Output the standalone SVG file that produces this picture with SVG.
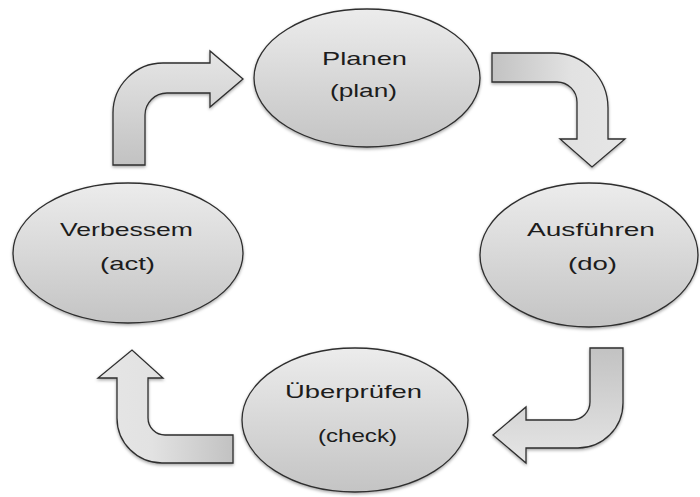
<svg xmlns="http://www.w3.org/2000/svg" width="700" height="497" viewBox="0 0 700 497">
<defs>
<linearGradient id="gEll" x1="0" y1="0" x2="0" y2="1">
<stop offset="0" stop-color="#ececec"/>
<stop offset="1" stop-color="#c4c4c4"/>
</linearGradient>
<linearGradient id="gA1" x1="0" y1="1" x2="0" y2="0">
<stop offset="0" stop-color="#c2c2c2"/>
<stop offset="1" stop-color="#e6e6e6"/>
</linearGradient>
<linearGradient id="gA2" x1="0" y1="0" x2="1" y2="0">
<stop offset="0" stop-color="#c2c2c2"/>
<stop offset="0.6" stop-color="#e2e2e2"/>
<stop offset="1" stop-color="#e6e6e6"/>
</linearGradient>
<linearGradient id="gA3" x1="0" y1="0" x2="0" y2="1">
<stop offset="0" stop-color="#c2c2c2"/>
<stop offset="1" stop-color="#e6e6e6"/>
</linearGradient>
<linearGradient id="gA4" x1="1" y1="0" x2="0" y2="0">
<stop offset="0" stop-color="#c2c2c2"/>
<stop offset="0.6" stop-color="#e2e2e2"/>
<stop offset="1" stop-color="#e6e6e6"/>
</linearGradient>
<filter id="sh" x="-10%" y="-10%" width="120%" height="125%">
<feDropShadow dx="0" dy="1.5" stdDeviation="1.5" flood-color="#000" flood-opacity="0.35"/>
</filter>
</defs>
<style>
.ell{fill:url(#gEll);stroke:#2e2e2e;stroke-width:1.3;filter:url(#sh)}
.arr{stroke:#2e2e2e;stroke-width:1.3;stroke-linejoin:miter;filter:url(#sh)}
.t{font-family:"Liberation Sans",Arial,sans-serif;font-size:19px;fill:#1c1c1c}
</style>
<rect width="700" height="497" fill="#ffffff"/>
<g id="connectors">
<path class="arr" fill="url(#gA1)" d="M113,165 L113,113 A50,50 0 0 1 163,63 L210,63 L210,51 L243,79 L210,107 L210,93 L167,93 A22,22 0 0 0 145,115 L145,165 Z"/>
<path class="arr" fill="url(#gA2)" d="M492,53 L553,53 A55,55 0 0 1 608,108 L608,139 L625,139 L592,167 L560,139 L577,139 L577,102 A20,20 0 0 0 557,82 L492,82 Z"/>
<path class="arr" fill="url(#gA3)" d="M590,348 L623,348 L623,403 A45,45 0 0 1 578,448 L526,448 L526,463 L493,435 L526,407 L526,420 L572,420 A18,18 0 0 0 590,402 Z"/>
<path class="arr" fill="url(#gA4)" d="M233,435 L233,463 L162,463 A45,45 0 0 1 117,418 L117,378 L98,378 L132,350 L163,378 L148,378 L148,418 A17,17 0 0 0 165,435 Z"/>
</g>
<g id="plan">
<ellipse class="ell" cx="367" cy="78" rx="113" ry="69"/>
<text class="t" x="322" y="65" textLength="85" lengthAdjust="spacingAndGlyphs">Planen</text>
<text class="t" x="330" y="97" textLength="67" lengthAdjust="spacingAndGlyphs">(plan)</text>
</g>
<g id="do">
<ellipse class="ell" cx="589" cy="255" rx="109" ry="72"/>
<text class="t" x="527" y="236" textLength="128" lengthAdjust="spacingAndGlyphs">Ausführen</text>
<text class="t" x="568" y="270" textLength="49" lengthAdjust="spacingAndGlyphs">(do)</text>
</g>
<g id="check">
<ellipse class="ell" cx="355" cy="420" rx="113" ry="72"/>
<text class="t" x="285" y="398" textLength="137" lengthAdjust="spacingAndGlyphs">Überprüfen</text>
<text class="t" x="318" y="442" textLength="79" lengthAdjust="spacingAndGlyphs">(check)</text>
</g>
<g id="act">
<ellipse class="ell" cx="128" cy="253" rx="115" ry="70"/>
<text class="t" x="60" y="236" textLength="133" lengthAdjust="spacingAndGlyphs">Verbessem</text>
<text class="t" x="100" y="270" textLength="55" lengthAdjust="spacingAndGlyphs">(act)</text>
</g>
</svg>
